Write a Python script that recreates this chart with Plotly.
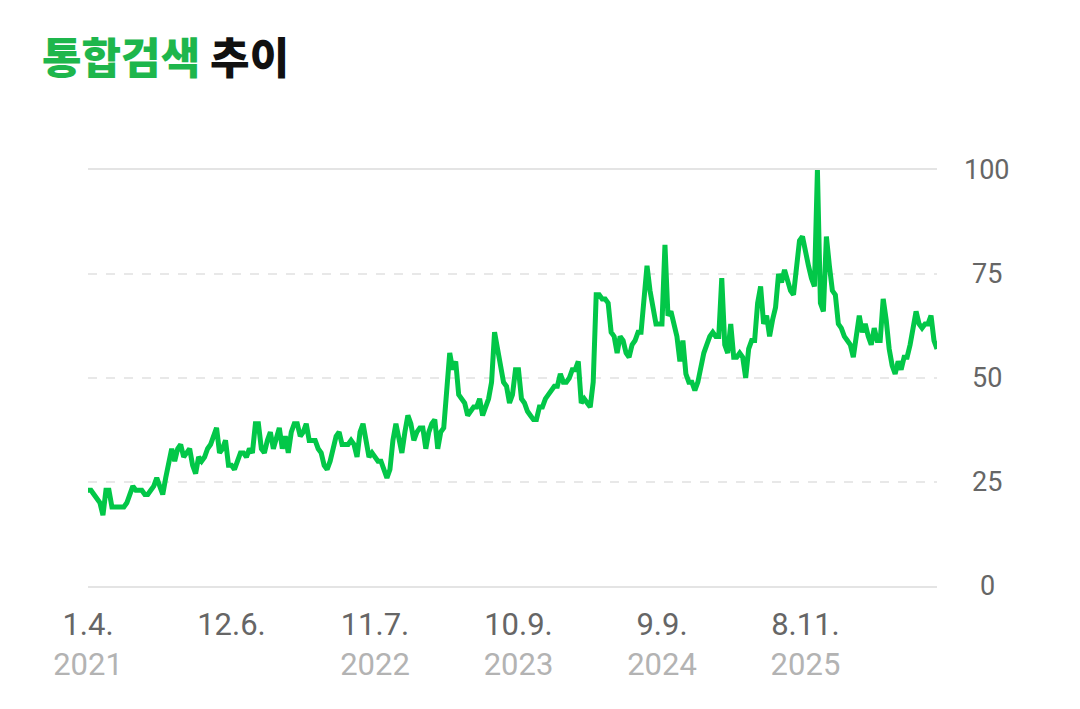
import pandas as pd
import plotly.graph_objects as go

# weekly search index, starting Monday 2021-01-04
start_date = '2021-01-04'
search_index = [
    23, 23, 22, 21, 20, 17, 23, 23, 19, 19, 19, 19, 19, 20, 22, 24, 23, 23, 23, 22,
    22, 23, 24, 26, 24, 22, 26, 29, 33, 30, 33, 34, 31, 32, 33, 29, 27, 31, 30, 31,
    33, 34, 36, 38, 32, 33, 35, 29, 29, 28, 30, 32, 32, 31, 33, 32, 39, 39, 33, 32,
    35, 37, 33, 36, 38, 33, 36, 32, 37, 39, 39, 36, 37, 39, 35, 35, 35, 33, 32, 29,
    28, 30, 33, 36, 37, 34, 34, 34, 35, 34, 31, 37, 39, 34, 31, 32, 31, 30, 30, 28,
    26, 28, 35, 39, 35, 32, 37, 41, 39, 35, 37, 38, 38, 33, 37, 39, 40, 33, 37, 38,
    47, 56, 52, 54, 46, 45, 44, 41, 42, 43, 43, 45, 41, 43, 45, 49, 61, 57, 53, 49,
    48, 44, 46, 52, 52, 45, 44, 42, 41, 40, 40, 43, 43, 45, 46, 47, 48, 48, 51, 49,
    49, 50, 52, 52, 54, 44, 45, 44, 43, 49, 70, 70, 69, 69, 68, 61, 60, 56, 60, 59,
    56, 55, 58, 59, 61, 61, 70, 77, 71, 66, 63, 63, 63, 82, 65, 66, 63, 60, 54, 59,
    51, 49, 49, 47, 49, 53, 56, 58, 60, 61, 60, 60, 74, 58, 56, 63, 55, 55, 56, 55,
    50, 57, 59, 59, 68, 72, 63, 65, 60, 64, 67, 75, 73, 76, 73, 71, 70, 76, 83, 84,
    80, 77, 74, 72, 100, 68, 66, 84, 77, 71, 70, 63, 62, 60, 59, 58, 55, 61, 65, 61,
    63, 60, 58, 62, 59, 59, 69, 64, 57, 53, 51, 54, 52, 55, 55, 58, 62, 66, 63, 62,
    63, 63, 65, 59, 57,
]

# x-axis ticks every 48 weeks
tick_dates = ['2021-01-04', '2021-12-06', '2022-11-07', '2023-10-09', '2024-09-09', '2025-08-11']
tick_days = ['1.4.', '12.6.', '11.7.', '10.9.', '9.9.', '8.11.']
tick_years = ['2021', '', '2022', '2023', '2024', '2025']

y_ticks = [0, 25, 50, 75, 100]

dates = pd.date_range(start_date, periods=len(search_index), freq='7D')

line_green = '#02c748'
title_green = '#1eb64c'

fig = go.Figure()
fig.add_trace(go.Scatter(
    x=dates, y=search_index, mode='lines',
    line=dict(color=line_green, width=5),
    cliponaxis=False, hoverinfo='skip', showlegend=False,
))

tick_text = [
    d + ('<br><span style="color:#b3b3b3">' + y + '</span>' if y else '<br> ')
    for d, y in zip(tick_days, tick_years)
]

fig.update_xaxes(
    range=[dates[0], dates[-1]],
    tickvals=pd.to_datetime(tick_dates), ticktext=tick_text,
    showgrid=False, zeroline=False,
    showline=True, mirror=True, linecolor='#e4e4e4', linewidth=1.5,
    ticks='', ticklabelstandoff=10,
    tickfont=dict(family='Roboto', size=31, color='#666666'),
)
fig.update_yaxes(
    range=[0, 100], tickvals=y_ticks, showticklabels=False,
    showgrid=True, gridcolor='#e8e8e8', griddash='dash', gridwidth=1.5,
    zeroline=False,
)

# y tick labels on the right, centred
for v in y_ticks:
    fig.add_annotation(
        x=1.059, xref='paper', y=v, yref='y', text=str(v), showarrow=False,
        xanchor='center', yanchor='middle',
        font=dict(family='Roboto', size=27, color='#666666'),
    )

# page body adds an 8px offset, margins compensate for it
fig.update_layout(
    width=1080, height=709,
    margin=dict(l=80, r=151, t=162, b=131),
    paper_bgcolor='white', plot_bgcolor='white',
    title=dict(
        text=f'<span style="color:{title_green}">통합검색</span> 추이',
        x=34 / 1080, xref='container', xanchor='left',
        y=1 - 51 / 709, yref='container', yanchor='middle',
        font=dict(family='Noto Sans CJK KR', size=43, color='#111111', weight=900),
    ),
)

fig.write_html('out.html')
